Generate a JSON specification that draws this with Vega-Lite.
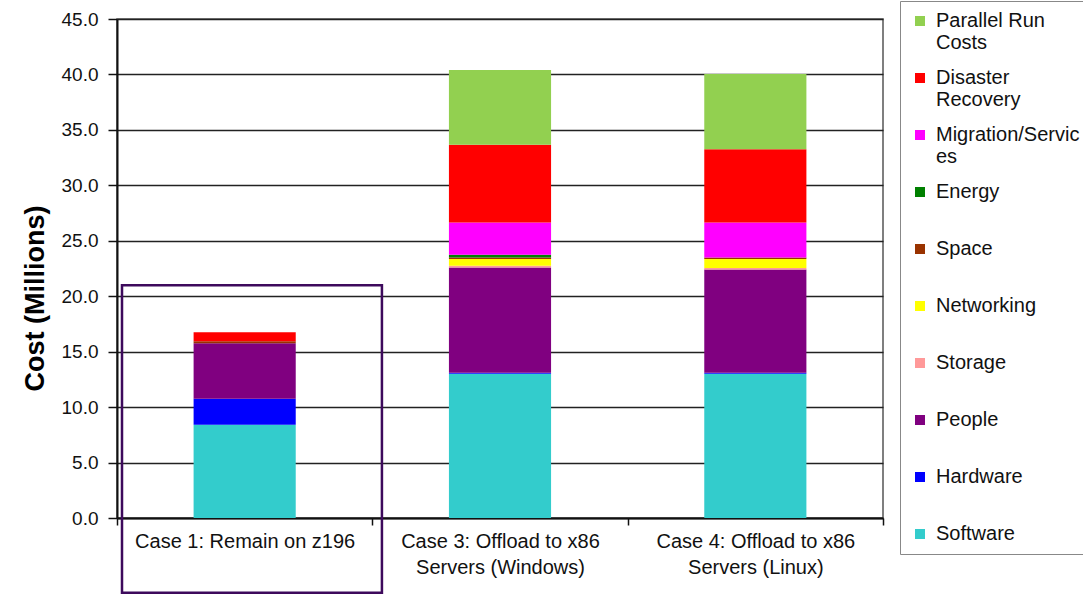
{
  "$schema": "https://vega.github.io/schema/vega-lite/v6.json",
  "width": 766,
  "height": 499,
  "autosize": {"type": "none"},
  "padding": {"left": 117, "top": 19, "right": 200, "bottom": 77},
  "background": "white",
  "config": {
    "view": {"stroke": "#555555", "strokeWidth": 1.5}
  },
  "datasets": {
    "costs": [
      {"case": "Case 1: Remain on z196", "category": "Software", "cost": 8.4},
      {"case": "Case 1: Remain on z196", "category": "Hardware", "cost": 2.35},
      {"case": "Case 1: Remain on z196", "category": "People", "cost": 5.0},
      {"case": "Case 1: Remain on z196", "category": "Space", "cost": 0.2},
      {"case": "Case 1: Remain on z196", "category": "Disaster Recovery", "cost": 0.8},
      {"case": "Case 3: Offload to x86 Servers (Windows)", "category": "Software", "cost": 13.0},
      {"case": "Case 3: Offload to x86 Servers (Windows)", "category": "Hardware", "cost": 0.1},
      {"case": "Case 3: Offload to x86 Servers (Windows)", "category": "People", "cost": 9.5},
      {"case": "Case 3: Offload to x86 Servers (Windows)", "category": "Storage", "cost": 0.15},
      {"case": "Case 3: Offload to x86 Servers (Windows)", "category": "Networking", "cost": 0.6},
      {"case": "Case 3: Offload to x86 Servers (Windows)", "category": "Space", "cost": 0.15},
      {"case": "Case 3: Offload to x86 Servers (Windows)", "category": "Energy", "cost": 0.25},
      {"case": "Case 3: Offload to x86 Servers (Windows)", "category": "Migration/Services", "cost": 2.9},
      {"case": "Case 3: Offload to x86 Servers (Windows)", "category": "Disaster Recovery", "cost": 7.0},
      {"case": "Case 3: Offload to x86 Servers (Windows)", "category": "Parallel Run Costs", "cost": 6.75},
      {"case": "Case 4: Offload to x86 Servers (Linux)", "category": "Software", "cost": 13.0},
      {"case": "Case 4: Offload to x86 Servers (Linux)", "category": "Hardware", "cost": 0.1},
      {"case": "Case 4: Offload to x86 Servers (Linux)", "category": "People", "cost": 9.3},
      {"case": "Case 4: Offload to x86 Servers (Linux)", "category": "Storage", "cost": 0.15},
      {"case": "Case 4: Offload to x86 Servers (Linux)", "category": "Networking", "cost": 0.8},
      {"case": "Case 4: Offload to x86 Servers (Linux)", "category": "Space", "cost": 0.15},
      {"case": "Case 4: Offload to x86 Servers (Linux)", "category": "Migration/Services", "cost": 3.15},
      {"case": "Case 4: Offload to x86 Servers (Linux)", "category": "Disaster Recovery", "cost": 6.6},
      {"case": "Case 4: Offload to x86 Servers (Linux)", "category": "Parallel Run Costs", "cost": 6.8}
    ],
    "categories": [
      {"category": "Software", "rank": 1},
      {"category": "Hardware", "rank": 2},
      {"category": "People", "rank": 3},
      {"category": "Storage", "rank": 4},
      {"category": "Networking", "rank": 5},
      {"category": "Space", "rank": 6},
      {"category": "Energy", "rank": 7},
      {"category": "Migration/Services", "rank": 8},
      {"category": "Disaster Recovery", "rank": 9},
      {"category": "Parallel Run Costs", "rank": 10}
    ],
    "highlight": [
      {"case": "Case 1: Remain on z196", "top": 21.0, "bottom": -6.75}
    ]
  },
  "layer": [
    {
      "data": {"name": "costs"},
      "transform": [
        {
          "lookup": "category",
          "from": {"data": {"name": "categories"}, "key": "category", "fields": ["rank"]}
        }
      ],
      "mark": {"type": "bar", "width": {"band": 0.4}},
      "encoding": {
        "x": {
          "field": "case",
          "type": "nominal",
          "sort": null,
          "scale": {"paddingInner": 0, "paddingOuter": 0},
          "axis": {
            "title": null,
            "labelAngle": 0,
            "labelFont": "Liberation Sans",
            "labelFontSize": 20,
            "labelColor": "#111111",
            "labelLineHeight": 26,
            "labelPadding": 6,
            "labelLimit": 400,
            "labelExpr": "indexof(datum.label, ' Servers') > 0 ? [slice(datum.label, 0, indexof(datum.label, ' Servers')), slice(datum.label, indexof(datum.label, ' Servers') + 1)] : datum.label",
            "tickBand": "extent",
            "tickSize": 7,
            "tickColor": "#111111",
            "tickWidth": 1.5,
            "domainColor": "#111111",
            "domainWidth": 2
          }
        },
        "y": {
          "field": "cost",
          "type": "quantitative",
          "scale": {"domain": [0, 45], "nice": false},
          "axis": {
            "title": "Cost (Millions)",
            "titleFont": "Liberation Sans",
            "titleFontSize": 27,
            "titleFontWeight": "bold",
            "titleColor": "#000000",
            "titlePadding": 12,
            "titleY": 279,
            "values": [0, 5, 10, 15, 20, 25, 30, 35, 40, 45],
            "labelExpr": "datum.label + '.0'",
            "labelFont": "Liberation Sans",
            "labelFontSize": 19,
            "labelColor": "#111111",
            "labelPadding": 10,
            "tickSize": 9,
            "tickColor": "#111111",
            "tickWidth": 1.5,
            "domainColor": "#111111",
            "domainWidth": 2,
            "gridColor": "#222222",
            "gridWidth": 1.5
          }
        },
        "order": {"field": "rank", "type": "quantitative"},
        "color": {
          "field": "category",
          "type": "nominal",
          "sort": [
            "Parallel Run Costs", "Disaster Recovery", "Migration/Services", "Energy", "Space",
            "Networking", "Storage", "People", "Hardware", "Software"
          ],
          "scale": {
            "domain": [
              "Parallel Run Costs", "Disaster Recovery", "Migration/Services", "Energy", "Space",
              "Networking", "Storage", "People", "Hardware", "Software"
            ],
            "range": [
              "#92D050", "#FF0000", "#FF00FF", "#008000", "#993300",
              "#FFFF00", "#FF9999", "#800080", "#0000FF", "#33CCCC"
            ]
          },
          "legend": {
            "title": null,
            "orient": "none",
            "legendX": 783,
            "legendY": -18,
            "symbolType": "square",
            "symbolSize": 100,
            "labelFont": "Liberation Sans",
            "labelFontSize": 20,
            "labelColor": "#111111",
            "labelOffset": 6,
            "labelLimit": 300,
            "labelExpr": "datum.label == 'Parallel Run Costs' ? ['Parallel Run', 'Costs'] : datum.label == 'Disaster Recovery' ? ['Disaster', 'Recovery'] : datum.label == 'Migration/Services' ? ['Migration/Servic', 'es'] : datum.label",
            "gridAlign": "all",
            "rowPadding": 15,
            "padding": 10,
            "strokeColor": "#888888",
            "fillColor": "#ffffff"
          }
        }
      }
    },
    {
      "data": {"name": "highlight"},
      "mark": {
        "type": "bar",
        "width": {"band": 1.018},
        "xOffset": 7.3,
        "fill": "transparent",
        "stroke": "#3d0a5c",
        "strokeWidth": 2.5,
        "clip": false
      },
      "encoding": {
        "x": {"field": "case", "type": "nominal", "sort": null},
        "y": {"field": "top", "type": "quantitative"},
        "y2": {"field": "bottom"}
      }
    }
  ]
}
